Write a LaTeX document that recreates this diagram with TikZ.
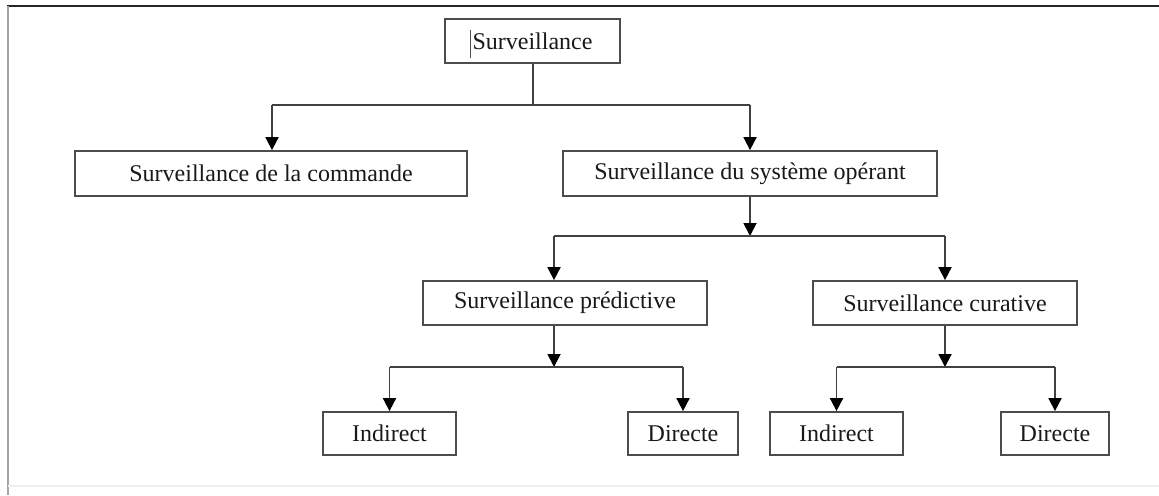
\documentclass[tikz,border=0pt]{standalone}
\usepackage{fontspec}
\setmainfont{Liberation Serif}
\usetikzlibrary{arrows.meta}
\begin{document}
\begin{tikzpicture}[x=0.5pt,y=-0.5pt,
  box/.style={draw=black!70, line width=0.9pt, inner sep=0pt, font=\fontsize{12}{14}\selectfont, text=black!90},
  conn/.style={draw=black!75, line width=0.9pt},
  arr/.style={conn, -{Triangle[width=6.5pt,length=6.5pt,color=black]}}]
\useasboundingbox (0,0) rectangle (1159,495);
% frame
\draw[black!85, line width=1.1pt] (7,6) -- (1159,6);
\draw[black!35, line width=1pt] (8,6) -- (8,495);
\draw[black!6, line width=1pt] (8,486) -- (1159,486);
% nodes
\node[box, minimum width=87.5pt, minimum height=22pt] (top) at (532.5,41) {Surveillance};
\draw[black!70, line width=0.4pt] (470,30) -- (470,58);
\node[box, minimum width=196pt, minimum height=22.5pt] (cmd) at (271,173.5) {Surveillance de la commande};
\node[box, minimum width=187pt, minimum height=22.5pt] (sys) at (750,173.5) {Surveillance du système opérant};
\node[box, minimum width=142pt, minimum height=22pt] (pred) at (565,303) {Surveillance prédictive};
\node[box, minimum width=132pt, minimum height=22pt] (cur) at (945,303) {Surveillance curative};
\node[box, minimum width=66.5pt, minimum height=21.5pt] (i1) at (389.5,433.5) {Indirect};
\node[box, minimum width=55pt, minimum height=21.5pt] (d1) at (683,433.5) {Directe};
\node[box, minimum width=66.5pt, minimum height=21.5pt] (i2) at (836.5,433.5) {Indirect};
\node[box, minimum width=54pt, minimum height=21.5pt] (d2) at (1055,433.5) {Directe};
% junctions
\coordinate (j0) at (533,105);
\coordinate (j1L) at (272,105);
\coordinate (j1R) at (750,105);
\coordinate (j2) at (750,236);
\coordinate (j2L) at (554,236);
\coordinate (j2R) at (945,236);
\coordinate (j3) at (554,367);
\coordinate (j3L) at (389.5,367);
\coordinate (j3R) at (683,367);
\coordinate (j4) at (945,367);
\coordinate (j4L) at (836.5,367);
\coordinate (j4R) at (1055,367);
% connectors level 1
\draw[conn] (top.south -| j0) -- (j0);
\draw[conn] (j1L) -- (j1R);
\draw[arr] (j1L) -- (j1L |- cmd.north);
\draw[arr] (j1R) -- (j1R |- sys.north);
% level 2
\draw[arr] (sys.south) -- (j2);
\draw[conn] (j2L) -- (j2R);
\draw[arr] (j2L) -- (j2L |- pred.north);
\draw[arr] (j2R) -- (j2R |- cur.north);
% level 3 left
\draw[arr] (pred.south -| j3) -- (j3);
\draw[conn] (j3L) -- (j3R);
\draw[arr] (j3L) -- (i1.north);
\draw[arr] (j3R) -- (d1.north);
% level 3 right
\draw[arr] (cur.south) -- (j4);
\draw[conn] (j4L) -- (j4R);
\draw[arr] (j4L) -- (i2.north);
\draw[arr] (j4R) -- (d2.north);
\end{tikzpicture}
\end{document}
